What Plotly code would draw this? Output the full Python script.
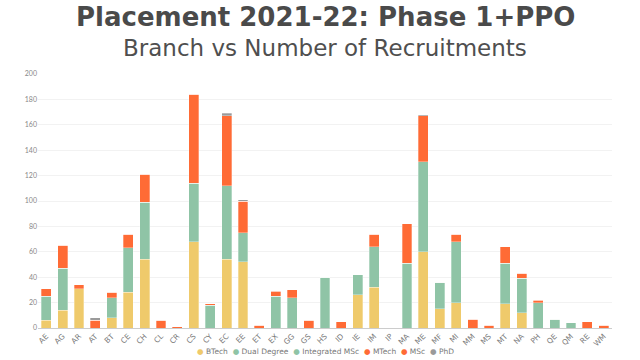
import plotly.graph_objects as go

branches = ["AE", "AG", "AR", "AT", "BT", "CE", "CH", "CL", "CR", "CS", "CY", "EC", "EE", "ET",
            "EX", "GG", "GS", "HS", "ID", "IE", "IM", "IP", "MA", "ME", "MF", "MI", "MM", "MS",
            "MT", "NA", "PH", "QE", "QM", "RE", "WM"]

btech =          [6, 14, 31, 0, 8, 28, 54, 0, 0, 68, 0, 54, 52, 0, 0, 0, 0, 0, 0, 26, 32, 0, 0, 60, 15, 20, 0, 0, 19, 12, 0, 0, 0, 0, 0]
dual_degree =    [19, 33, 0, 0, 16, 35, 45, 0, 0, 46, 0, 58, 23, 0, 0, 0, 0, 0, 0, 16, 32, 0, 0, 71, 21, 48, 0, 0, 32, 27, 0, 0, 4, 0, 0]
integrated_msc = [0, 0, 0, 0, 0, 0, 0, 0, 0, 0, 18, 0, 0, 0, 25, 24, 0, 40, 0, 0, 0, 0, 51, 0, 0, 0, 0, 0, 0, 0, 20, 7, 0, 0, 0]
mtech =          [6, 18, 3, 6, 4, 11, 22, 6, 1, 70, 0, 55, 25, 2, 0, 0, 6, 0, 5, 0, 10, 0, 0, 36, 0, 6, 7, 2, 13, 4, 0, 0, 0, 5, 2]
msc =            [0, 0, 0, 0, 0, 0, 0, 0, 0, 0, 1, 0, 0, 0, 4, 6, 0, 0, 0, 0, 0, 0, 31, 0, 0, 0, 0, 0, 0, 0, 2, 0, 0, 0, 0]
phd =            [0, 0, 0, 2, 0, 0, 0, 0, 0, 0, 0, 2, 1, 0, 0, 0, 0, 0, 0, 0, 0, 0, 0, 1, 0, 0, 0, 0, 0, 0, 0, 0, 0, 0, 0]

series = [
    ("BTech", btech, "#efca6b"),
    ("Dual Degree", dual_degree, "#8fc4a6"),
    ("Integrated MSc", integrated_msc, "#8fc4a6"),
    ("MTech", mtech, "#ff6b35"),
    ("MSc", msc, "#ff6b35"),
    ("PhD", phd, "#9a9a9a"),
]

fig = go.Figure()
for name, vals, color in series:
    fig.add_trace(go.Bar(
        x=branches, y=vals, name=name,
        marker=dict(color=color, line=dict(color="rgba(255,255,255,0.6)", width=0.5)),
        showlegend=False,
    ))

font_family = "Lato, 'Open Sans', sans-serif"
title_family = "'DejaVu Sans', sans-serif"

legend_html = "&nbsp;&nbsp;".join(
    f"<span style='color:{c}'>●</span> {n}" for n, _, c in series
)

M_T, M_B = 74, 30
plot_h = 360 - M_T - M_B


def px_to_paper(py):
    return (360 - M_B - py) / plot_h


fig.update_layout(
    width=640, height=360,
    barmode="stack",
    bargap=0.4,
    plot_bgcolor="white",
    paper_bgcolor="white",
    margin=dict(l=38, r=28, t=M_T, b=M_B),
    font=dict(family=font_family, color="#666"),
    xaxis=dict(
        tickangle=-45, tickfont=dict(size=7.5, color="#777", family=title_family),
        showline=True, linecolor="#cccccc", linewidth=1,
        ticks="", showgrid=False,
    ),
    yaxis=dict(
        range=[0, 200], dtick=20, tickfont=dict(size=7, color="#888"),
        showgrid=True, gridcolor="#f2f2f2", zeroline=False, ticks="",
    ),
    annotations=[
        dict(text="<b>Placement 2021-22: Phase 1+PPO</b>", x=0.5, y=px_to_paper(17),
             xref="paper", yref="paper", yanchor="middle", showarrow=False,
             font=dict(size=26, color="#4a4a4a", family=title_family)),
        dict(text="Branch vs Number of Recruitments", x=0.5, y=px_to_paper(48),
             xref="paper", yref="paper", yanchor="middle", showarrow=False,
             font=dict(size=23, color="#4f4f4f", family=title_family)),
        dict(text=legend_html, x=0.5, y=px_to_paper(354), xref="paper", yref="paper",
             yanchor="middle", showarrow=False,
             font=dict(size=7.5, color="#777", family=title_family)),
    ],
)

fig.write_html("out.html", config={"displayModeBar": False},
               post_script="document.body.style.margin='0px';")
